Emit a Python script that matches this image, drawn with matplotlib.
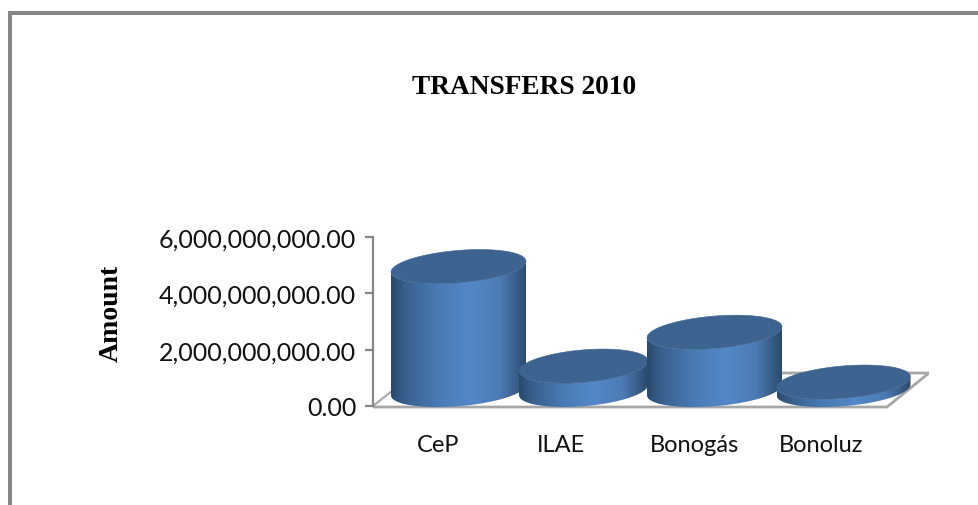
import numpy as np
import matplotlib
matplotlib.use("Agg")
import matplotlib.pyplot as plt
from matplotlib.colors import LinearSegmentedColormap
from matplotlib.lines import Line2D
from matplotlib.patches import Polygon

categories = ["CeP", "ILAE", "Bonogás", "Bonoluz"]
amounts = [4.38e9, 0.85e9, 2.05e9, 0.28e9]
y_ticks = [0, 2e9, 4e9, 6e9]

W, H = 979, 506
# plot box in pixels
LEFT, RIGHT = 373, 929
Y_TOP, Y_ZERO, Y_BOTTOM = 238, 407, 424
PX_PER_UNIT = (Y_ZERO - Y_TOP) / 6e9
SPACING = 128.5
FIRST = 458.5

fig = plt.figure(figsize=(W / 100, H / 100), dpi=100)
ax = fig.add_axes([LEFT / W, 1 - Y_BOTTOM / H, (RIGHT - LEFT) / W, (Y_BOTTOM - Y_TOP) / H])
ax.set_xlim((LEFT - FIRST) / SPACING, (RIGHT - FIRST) / SPACING)
ax.set_ylim(-(Y_BOTTOM - Y_ZERO) / PX_PER_UNIT, 6e9)
ax.patch.set_alpha(0)


def dx(px):
    return px / SPACING


def dy(px):
    return px / PX_PER_UNIT


# floor of the 3d box
x0 = ax.get_xlim()[0]
ax.plot([x0, x0 + dx(19)], [dy(0), dy(15)], color="#a6a6a6", lw=1.5, solid_capstyle="butt")
ax.plot([x0 + dx(400), x0 + dx(556), x0 + dx(514), x0], [dy(33), dy(33), dy(-1), dy(-1)],
        color="#a6a6a6", lw=2.0, solid_joinstyle="miter")

shade = LinearSegmentedColormap.from_list(
    "cyl", [(0, "#2a4a6c"), (0.12, "#3a6291"), (0.35, "#4a7bb5"), (0.58, "#5387c8"),
            (0.8, "#4c7cb6"), (0.93, "#375c87"), (1, "#2a4a6c")])
grad = np.linspace(0, 1, 256).reshape(1, -1)

half_w = [67.5, 64.5, 67.5, 67]
nudge = [0, -3.5, -1, -0.5]
HALF_H = 16.2
SKEW = 0.08
BASE = 16
t = np.linspace(0, 2 * np.pi, 200)

for i, amount in enumerate(amounts):
    cx = i + dx(nudge[i])
    a = half_w[i]
    ex = dx(a) * np.cos(t)
    ey = dy(HALF_H) * np.sin(t) + dy(SKEW * a) * np.cos(t)
    base = dy(BASE)
    top = base + amount

    # side wall: front half of the base, back along the top outline
    front = np.sin(t) < 0
    order = np.argsort(ex[front])
    low_x, low_y = ex[front][order], ey[front][order]
    side = np.vstack([
        np.column_stack([cx + low_x, base + low_y]),
        np.column_stack([cx + low_x[::-1], top + low_y[::-1]]),
    ])
    wall = Polygon(side, closed=True, fc="none", ec="none", transform=ax.transData)
    ax.add_patch(wall)
    im = ax.imshow(grad, cmap=shade, aspect="auto", interpolation="bilinear",
                   extent=[cx - dx(a), cx + dx(a), base - dy(20), top + dy(20)],
                   zorder=2 + i)
    im.set_clip_path(wall)
    ax.add_patch(Polygon(np.column_stack([cx + ex, top + ey]), closed=True,
                         fc="#3d6391", ec="#3d6391", lw=0.4, zorder=2 + i))

ax.set_xlim((LEFT - FIRST) / SPACING, (RIGHT - FIRST) / SPACING)
ax.set_ylim(-(Y_BOTTOM - Y_ZERO) / PX_PER_UNIT, 6e9)

for side in ["top", "right", "bottom"]:
    ax.spines[side].set_visible(False)
ax.spines["left"].set_bounds(0, 6e9)
ax.spines["left"].set_color("#868686")
ax.spines["left"].set_linewidth(1.6)

ax.set_yticks(y_ticks)
ax.set_yticklabels([f"{v:,.2f}" for v in y_ticks], family="Lato", fontsize=18, color="#111111")
ax.tick_params(axis="y", length=6, width=1.6, color="#868686", pad=6)
# labels sit left of the bars because of the 3d view
ax.set_xticks([i - 0.16 + dx(n) for i, n in enumerate([0, -5, 0, -2])])
ax.set_xticklabels(categories, family="Lato", fontsize=17, color="#111111")
ax.tick_params(axis="x", length=0, pad=8)

fig.text(524 / W, 1 - 88 / H, "TRANSFERS 2010", family="Liberation Serif", weight="bold",
         fontsize=19.7, ha="center", va="center", color="black")
fig.text(111 / W, 1 - 313 / H, "Amount", family="Liberation Serif", weight="bold",
         fontsize=20, rotation=90, ha="center", va="center", color="black")

# frame round the picture (only top and left are in view)
fig.add_artist(Line2D([10 / W, 10 / W], [0, 1 - 12 / H], color="#868686", lw=2.9, solid_capstyle="butt"))
fig.add_artist(Line2D([8 / W, 1], [1 - 14 / H, 1 - 14 / H], color="#868686", lw=2.9, solid_capstyle="butt"))

fig.savefig("out.png", dpi=100)
